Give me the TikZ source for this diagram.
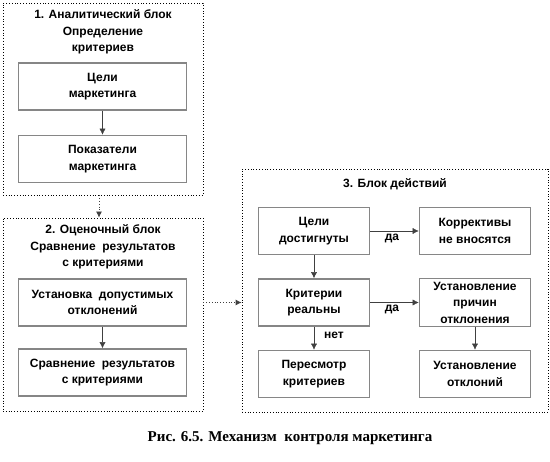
\documentclass[tikz,border=0pt]{standalone}
\usepackage{fontspec}
\setmainfont{Liberation Sans}
\newfontfamily\capfont{Liberation Serif}
\usetikzlibrary{arrows.meta}

\begin{document}
\begin{tikzpicture}[x=1pt,y=-1pt,
    blok/.style={draw,dotted,thick},
    item/.style={draw=gray!95,line width=1.6pt,minimum width=168pt,minimum height=47pt,
        align=center,font=\bfseries\fontsize{12}{16.5}\selectfont},
    itemr/.style={item,minimum width=111pt},
    head/.style={align=center,font=\bfseries\fontsize{12}{16.5}\selectfont},
    arr/.style={draw=black!75,-{Latex[length=6pt,width=6pt]}},
    darr/.style={arr,dotted,thick},
    lbl/.style={font=\bfseries\fontsize{12}{13}\selectfont}]
    \useasboundingbox (0,0) rectangle (550,462);
            % 1. analiticheskij blok
            \node[blok,minimum width=200pt,minimum height=192pt] (b1) at (103,99) {};
            \node[head] at (103,32) {1. Аналитический блок\\Определение\\критериев};
            \node[item] (celi) at (102.5,86.5) {Цели\\маркетинга};
            \node[item] (pokaz) at (102.5,159) {Показатели\\маркетинга};
            % 2. ocenochnyj blok
            \node[blok,minimum width=200pt,minimum height=193pt] (b2) at (103,314.5) {};
            \node[head] at (103,247) {2. Оценочный блок\\Сравнение\ \ результатов\\с критериями};
            \node[item] (ustan) at (102.5,302.5) {Установка\ \ допустимых\\отклонений};
            \node[item] (sravn) at (102.5,372.5) {Сравнение\ \ результатов\\с критериями};
            % 3. blok dejstvij
            \node[blok,minimum width=306pt,minimum height=243pt] (b3) at (395,290.5) {};
            \node[head] at (395,184) {3. Блок действий};
            \node[itemr] (dost) at (314,231) {Цели\\достигнуты};
            \node[itemr] (korr) at (475,231) {Коррективы\\не вносятся};
            \node[itemr] (real) at (314,302.5) {Критерии\\реальны};
            \node[itemr] (prich) at (475,302.5) {Установление\\причин\\отклонения};
            \node[itemr] (peres) at (314,374) {Пересмотр\\критериев};
            \node[itemr] (otkl) at (475,374) {Установление\\отклоний};
            % strelki
            \draw[arr] (celi) -- (pokaz);
            \draw[arr] (ustan) -- (sravn);
            \draw[darr] ([xshift=-4pt]b1.south) -- ([xshift=-4pt]b2.north);
            \draw[darr] (b2.east |- ustan) -- (b3.west |- ustan);
            \draw[arr] (dost) -- (korr);
            \draw[arr] (real) -- (prich);
            \draw[arr] (dost) -- (real);
            \draw[arr] (real) -- (peres);
            \draw[arr] (prich) -- (otkl);
            \node[lbl] at (392,238) {да};
            \node[lbl] at (392,309) {да};
            \node[lbl] at (334,335) {нет};
            % podpis
            \node[font=\capfont\bfseries\fontsize{15}{18}\selectfont] at (290,438) {Рис. 6.5. Механизм\ \ контроля маркетинга};
\end{tikzpicture}
\end{document}
